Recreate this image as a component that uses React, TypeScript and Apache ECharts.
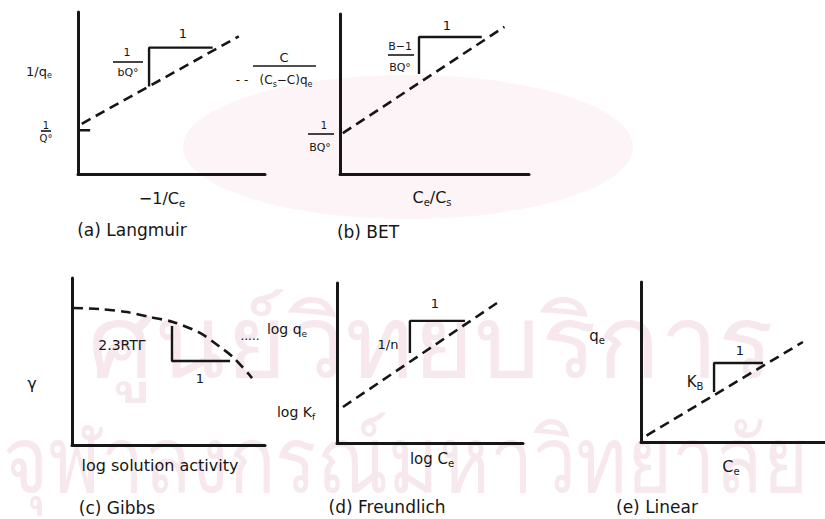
import React, { useEffect, useRef } from 'react';
import * as echarts from 'echarts';

const W = 825;
const H = 519;
const INK = '#161616';
const FONT = 'DejaVu Sans';

// (a) Langmuir: 1/qe against 1/Ce
const langmuirLine = [[2, 31], [86, 85]];
const langmuirSlope = [[38, 54], [38, 78], [72, 78]];
const langmuirIntercept = [[0, 27], [6.5, 27]];

// (b) BET
const betLine = [[1.5, 25.5], [87, 92]];
const betSlope = [[41.8, 62.5], [41.8, 85.6], [75, 85.6]];

// (c) Gibbs: surface tension against log activity
const gibbsCurve = [
  [0.5, 82], [14.5, 81.4], [28.5, 79.6], [40.4, 76.6], [52.3, 73.7],
  [66.3, 67.1], [76.7, 58.7], [83.4, 52.7], [93.3, 40.1],
];
const gibbsSlope = [[51.8, 71.3], [51.8, 50.3], [81.9, 50.3]];

// (d) Freundlich
const freundlichLine = [[3.2, 22.5], [86, 87.5]];
const freundlichSlope = [[39.2, 56.3], [39.2, 76.3], [68.8, 76.3]];

// (e) Linear
const linearLine = [[3, 4], [88, 62.5]];
const linearSlope = [[39.7, 31.3], [39.7, 49.4], [66.3, 49.4]];

const panelTitles = ['(a) Langmuir', '(b) BET', '(c) Gibbs', '(d) Freundlich', '(e) Linear'];
const watermarkLines = ['ศูนย์วิทยบริการ', 'จุฬาลงกรณ์มหาวิทยาลัย'];

const grids = [
  { left: 78, top: 12, width: 187, height: 162 },
  { left: 340, top: 14, width: 189, height: 160 },
  { left: 72, top: 278, width: 193, height: 167 },
  { left: 337, top: 283, width: 186, height: 160 },
  { left: 641, top: 282, width: 184, height: 160 },
];

const axisBase = (i: number) => ({
  type: 'value' as const,
  gridIndex: i,
  min: 0,
  max: 100,
  axisLine: { show: true, onZero: false, lineStyle: { color: INK, width: 3 } },
  axisTick: { show: false },
  axisLabel: { show: false },
  splitLine: { show: false },
});

const dashed = (i: number, data: number[][], smooth: number | boolean = false) => ({
  type: 'line',
  xAxisIndex: i,
  yAxisIndex: i,
  data,
  symbol: 'none',
  smooth,
  silent: true,
  z: 3,
  lineStyle: { color: INK, width: 2.6, type: [10, 6] },
});

const solid = (i: number, data: number[][]) => ({
  type: 'line',
  xAxisIndex: i,
  yAxisIndex: i,
  data,
  symbol: 'none',
  silent: true,
  z: 3,
  lineStyle: { color: INK, width: 2.4 },
});

// plain or subscripted label, centred on (x, y)
const label = (x: number, y: number, text: string, size = 14) => ({
  type: 'text',
  x,
  y,
  z: 10,
  silent: true,
  style: {
    text,
    fill: INK,
    font: `${size}px "${FONT}"`,
    align: 'center',
    verticalAlign: 'middle',
    rich: {
      m: { fontSize: size, fontFamily: FONT, fill: INK, lineHeight: size + 2, verticalAlign: 'top' },
      s: { fontSize: Math.round(size * 0.65), fontFamily: FONT, fill: INK, lineHeight: Math.round(size * 0.55), verticalAlign: 'bottom' },
    },
  },
});

const bar = (x1: number, x2: number, y: number) => ({
  type: 'line',
  z: 10,
  silent: true,
  shape: { x1, y1: y, x2, y2: y },
  style: { stroke: INK, lineWidth: 1.6 },
});

const WM = '#f7e8ee';
const watermark = [
  {
    type: 'ellipse',
    z: 0,
    silent: true,
    shape: { cx: 408, cy: 147, rx: 225, ry: 72 },
    style: { fill: '#fdf4f7' },
  },
  {
    type: 'text',
    x: 88,
    y: 343,
    scaleX: 1.04,
    z: 0,
    silent: true,
    style: { text: watermarkLines[0], fill: WM, font: '100px sans-serif', align: 'left', verticalAlign: 'middle' },
  },
  {
    type: 'text',
    x: 3,
    y: 461,
    scaleY: 1.18,
    z: 0,
    silent: true,
    style: { text: watermarkLines[1], fill: WM, font: '77px sans-serif', align: 'left', verticalAlign: 'middle' },
  },
];

const texts = [
  // (a)
  label(39, 72, '{m|1/q}{s|e}', 13),
  label(46, 125, '1', 10),
  bar(41, 51, 131),
  label(46, 138, 'Q°', 10),
  label(127, 52, '1', 11),
  bar(113, 143, 62),
  label(128, 72, 'bQ°', 11),
  label(183, 33, '1', 13),
  label(162, 199, '{m|−1/C}{s|e}', 16),
  label(132, 230, panelTitles[0], 17),
  // (b)
  label(242, 80, '- -', 12),
  label(284, 57, 'C', 13),
  bar(253, 316, 66),
  label(286, 81, '{m|(C}{s|s}{m|−C)q}{s|e}', 12),
  label(324, 125, '1', 10),
  bar(308, 334, 134),
  label(320, 147, 'BQ°', 11),
  label(400, 46, 'B−1', 11),
  bar(388, 414, 55),
  label(400, 67, 'BQ°', 11),
  label(447, 25, '1', 13),
  label(432, 198, '{m|C}{s|e}{m|/C}{s|s}', 16),
  label(368, 232, panelTitles[1], 17),
  // (c)
  label(122, 345, '2.3RTΓ', 14),
  label(200, 378, '1', 13),
  label(32, 383, 'γ', 16),
  label(160, 465, 'log solution activity', 16),
  label(117, 508, panelTitles[2], 17),
  // (d)
  label(250, 336, '.....', 12),
  label(287, 330, '{m|log q}{s|e}', 14),
  label(296, 413, '{m|log K}{s|f}', 14),
  label(435, 303, '1', 13),
  label(388, 344, '1/n', 13),
  label(432, 460, '{m|log C}{s|e}', 15),
  label(387, 507, panelTitles[3], 17),
  // (e)
  label(597, 337, '{m|q}{s|e}', 15),
  label(740, 350, '1', 13),
  label(695, 383, '{m|K}{s|B}', 15),
  label(731, 467, '{m|C}{s|e}', 16),
  label(657, 507, panelTitles[4], 17),
];

const option = {
  animation: false,
  backgroundColor: '#ffffff',
  grid: grids.map((g) => ({ ...g, outerBoundsMode: 'none', containLabel: false })),
  xAxis: grids.map((_, i) => axisBase(i)),
  yAxis: grids.map((_, i) => axisBase(i)),
  series: [
    dashed(0, langmuirLine),
    solid(0, langmuirSlope),
    solid(0, langmuirIntercept),
    dashed(1, betLine),
    solid(1, betSlope),
    dashed(2, gibbsCurve, 0.3),
    solid(2, gibbsSlope),
    dashed(3, freundlichLine),
    solid(3, freundlichSlope),
    dashed(4, linearLine),
    solid(4, linearSlope),
  ],
  graphic: [...watermark, ...texts],
};

export default function App() {
  const ref = useRef<HTMLDivElement>(null);
  useEffect(() => {
    if (!ref.current) return;
    const chart = echarts.init(ref.current, null, { renderer: 'svg', width: W, height: H });
    chart.setOption(option as any);
    return () => chart.dispose();
  }, []);
  return (
    <div
      ref={ref}
      style={{ position: 'absolute', left: 0, top: 0, width: W, height: H, background: '#fff' }}
    />
  );
}
